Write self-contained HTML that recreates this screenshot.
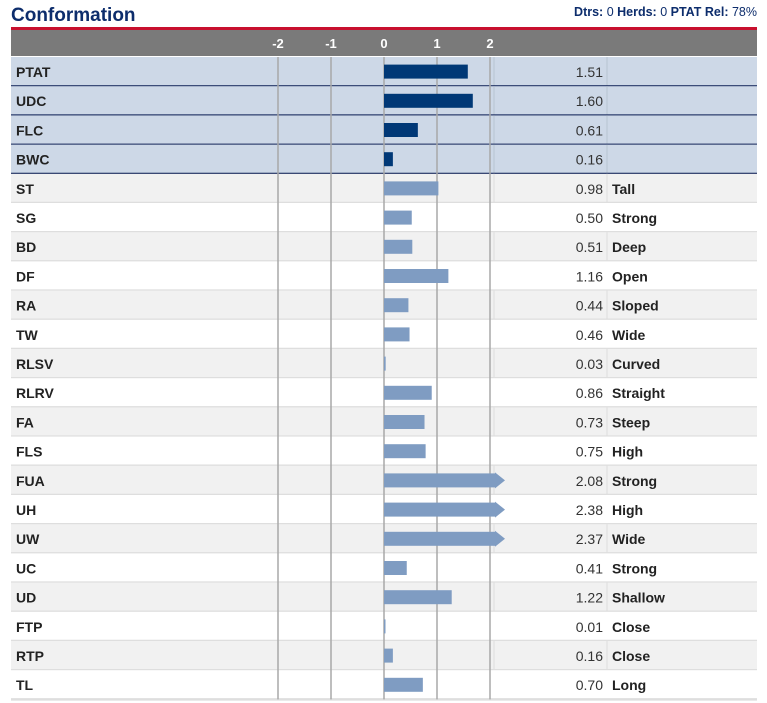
<!DOCTYPE html>
<html><head><meta charset="utf-8"><style>
body{margin:0;background:#fff;font-family:"Liberation Sans",Arial,sans-serif;}
svg{display:block}
</style></head><body>
<svg id="chart" width="767" height="703" xmlns="http://www.w3.org/2000/svg">
<text x="11" y="21" font-size="19" font-weight="bold" fill="#0d2d6c">Conformation</text>
<text x="757" y="16" font-size="12.5" text-anchor="end" fill="#0d2d6c"><tspan font-weight="bold">Dtrs:</tspan> 0  <tspan font-weight="bold">Herds:</tspan> 0  <tspan font-weight="bold">PTAT Rel:</tspan> 78%</text>
<rect x="11" y="27" width="746" height="3" fill="#c8102e"/>
<rect x="11" y="30" width="746" height="26" fill="#7a7a7a"/>
<g id="rows"></g>
<g id="grid"></g>
<g id="bars"></g>
<g id="ticks"></g>
</svg>
<script>
const traits=["PTAT","UDC","FLC","BWC","ST","SG","BD","DF","RA","TW","RLSV","RLRV","FA","FLS","FUA","UH","UW","UC","UD","FTP","RTP","TL"];
const values=[1.51,1.60,0.61,0.16,0.98,0.50,0.51,1.16,0.44,0.46,0.03,0.86,0.73,0.75,2.08,2.38,2.37,0.41,1.22,0.01,0.16,0.70];
const descriptors=["","","","","Tall","Strong","Deep","Open","Sloped","Wide","Curved","Straight","Steep","High","Strong","High","Wide","Strong","Shallow","Close","Close","Long"];
const tickLabels=[-2,-1,0,1,2];
const NS="http://www.w3.org/2000/svg";
const zeroX=384, gridUnit=53, barUnit=55.5, maxV=2, top0=57, rowH=29.2;
const gx=v=>zeroX+v*gridUnit;
const bx=v=>zeroX+Math.min(v,maxV)*barUnit;
function mk(tag,attrs,parent){const e=document.createElementNS(NS,tag);for(const k in attrs)e.setAttribute(k,attrs[k]);parent.appendChild(e);return e;}
const rows=document.getElementById('rows'),grid=document.getElementById('grid'),bars=document.getElementById('bars'),ticks=document.getElementById('ticks');
tickLabels.forEach(t=>{
  const tx=mk('text',{x:gx(t),y:48,'font-size':13,'font-weight':'bold',fill:'#fff','text-anchor':'middle'},ticks);
  
  
  tx.textContent=t;
});
traits.forEach((t,i)=>{
  const y=top0+i*rowH, comp=i<4;
  const fill=comp?'#cdd8e7':(i%2===0?'#f1f1f1':'#ffffff');
  const r=mk('rect',{x:11,y:y,width:746,height:rowH,fill:fill},rows);
  
  
  if(comp||i%2===0){mk('line',{x1:607,x2:607,y1:y,y2:y+rowH,stroke:comp?'#b8c3d2':'#dddddd'},rows);
    mk('line',{x1:494,x2:494,y1:y,y2:y+rowH,stroke:comp?'#b8c3d2':'#dddddd'},rows);}
  mk('line',{x1:11,x2:757,y1:y+rowH,y2:y+rowH,stroke:comp?'#0d1f55':'#dedede','stroke-width':comp?2:2.5},rows);
  const lb=mk('text',{x:16,y:y+20,'font-size':14,'font-weight':'bold',fill:'#222'},rows);
  
  
  lb.textContent=t;
  const v=values[i];
  const bh=comp?14:14, by=y+(rowH-bh)/2;
  const w=Math.max(bx(v)-zeroX,1.5);
  const b=mk('rect',{x:zeroX,y:by,width:w,height:bh,fill:comp?'#003876':'#7f9cc2'},bars);
  
  
  if(v>maxV){const ex=bx(v);
    const a=mk('polygon',{points:`${ex},${by-1} ${ex+10},${by+bh/2} ${ex},${by+bh+1}`,fill:'#7f9cc2'},bars);
    
    }
  const vt=mk('text',{x:603,y:y+20,'font-size':14,fill:'#333','text-anchor':'end'},rows);
  
  
  vt.textContent=v.toFixed(2);
  if(descriptors[i]){const d=mk('text',{x:612,y:y+20,'font-size':14,'font-weight':'bold',fill:'#222'},rows);
    
    
    d.textContent=descriptors[i];}
});
const bottom=top0+traits.length*rowH;
tickLabels.forEach(t=>{
  const l=mk('line',{x1:gx(t),x2:gx(t),y1:top0,y2:bottom,stroke:'#a8a8a8','stroke-width':1.5},grid);
  
  
});
</script>
</body></html>
